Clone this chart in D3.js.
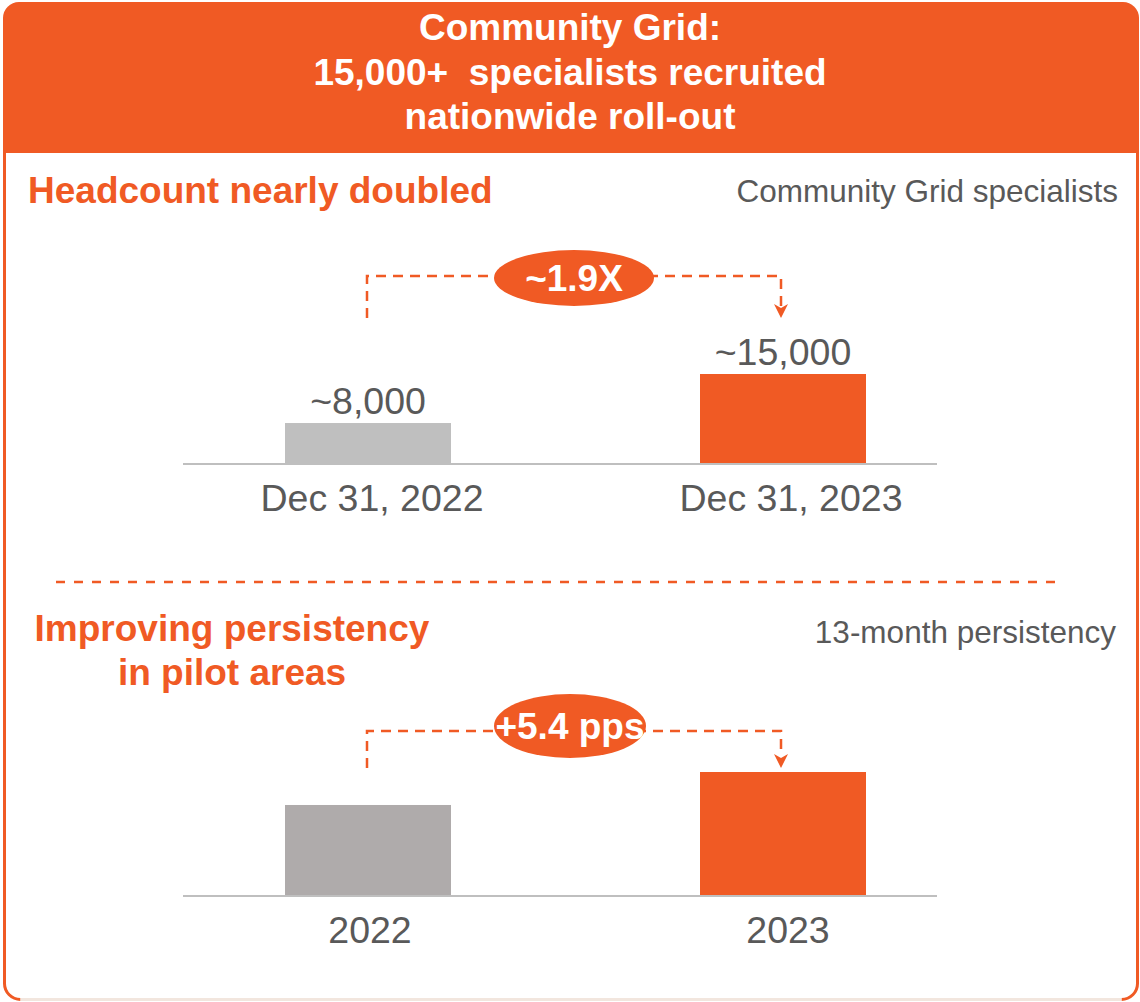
<!DOCTYPE html>
<html>
<head>
<meta charset="utf-8">
<script src="https://cdn.jsdelivr.net/npm/d3@7"></script>
<style>
  html, body { margin: 0; padding: 0; background: #fff; }
  svg { display: block; font-family: "Liberation Sans", Arial, sans-serif; }
</style>
</head>
<body>
<div class="chart"></div>
<script>
// header + section titles
var titleLines = ['Community Grid:', '15,000+  specialists recruited', 'nationwide roll-out'];

// chart 1: headcount
var headcountCategories = ['Dec 31, 2022', 'Dec 31, 2023'];
var headcountValues = [8000, 15000];
var headcountLabels = ['~8,000', '~15,000'];

// chart 2: 13-month persistency (values not labelled, only the +5.4 pps gap)
var persistencyCategories = ['2022', '2023'];
var persistencyValues = [82.0, 87.4];

var orange = '#F05A24';
var grey = '#595959';
var fontSize = 37.5;

draw();

function draw() {
    var width = 1140, height = 1002;

    var svg = d3.select('.chart')
        .append('svg')
        .attr('width', width)
        .attr('height', height);

    // frame
    var x0 = 4.5, x1 = 1137.5, y0 = 2, y1 = 999.5, r = 16, headerBottom = 153;
    var header = d3.path();
    header.moveTo(x0 - 1.5, headerBottom);
    header.lineTo(x0 - 1.5, y0 + r);
    header.arcTo(x0 - 1.5, y0, x0 + r, y0, r);
    header.lineTo(x1 - r, y0);
    header.arcTo(x1 + 1.5, y0, x1 + 1.5, y0 + r, r);
    header.lineTo(x1 + 1.5, headerBottom);
    header.closePath();
    svg.append('path').attr('d', header.toString()).attr('fill', orange);

    var frame = d3.path();
    frame.moveTo(x0, headerBottom - 2);
    frame.lineTo(x0, y1 - r);
    frame.arcTo(x0, y1, x0 + r, y1, r);
    svg.append('path').attr('d', frame.toString())
        .attr('fill', 'none').attr('stroke', orange).attr('stroke-width', 3);
    var frameR = d3.path();
    frameR.moveTo(x1, headerBottom - 2);
    frameR.lineTo(x1, y1 - r);
    frameR.arcTo(x1, y1, x1 - r, y1, r);
    svg.append('path').attr('d', frameR.toString())
        .attr('fill', 'none').attr('stroke', orange).attr('stroke-width', 3);
    svg.append('line')
        .attr('x1', x0 + r).attr('x2', x1 - r).attr('y1', y1).attr('y2', y1)
        .attr('stroke', '#F2E6DE').attr('stroke-width', 3);

    // header title
    svg.append('g').selectAll('text')
        .data(titleLines)
        .enter()
        .append('text')
        .attr('x', 570)
        .attr('y', function (d, i) { return 40 + i * 44.5; })
        .attr('text-anchor', 'middle')
        .attr('fill', '#fff')
        .attr('font-weight', 'bold')
        .attr('font-size', 37)
        .style('white-space', 'pre')
        .text(function (d) { return d; });

    // section headings
    svg.append('text')
        .attr('x', 28).attr('y', 203)
        .attr('fill', orange).attr('font-weight', 'bold').attr('font-size', 37)
        .text('Headcount nearly doubled');
    svg.append('text')
        .attr('x', 1118).attr('y', 202)
        .attr('text-anchor', 'end')
        .attr('fill', grey).attr('font-size', 31.5)
        .text('Community Grid specialists');

    svg.append('text')
        .attr('x', 232).attr('y', 641)
        .attr('text-anchor', 'middle')
        .attr('fill', orange).attr('font-weight', 'bold').attr('font-size', 37)
        .text('Improving persistency');
    svg.append('text')
        .attr('x', 232).attr('y', 685)
        .attr('text-anchor', 'middle')
        .attr('fill', orange).attr('font-weight', 'bold').attr('font-size', 37)
        .text('in pilot areas');
    svg.append('text')
        .attr('x', 1116).attr('y', 643)
        .attr('text-anchor', 'end')
        .attr('fill', grey).attr('font-size', 31.5)
        .text('13-month persistency');

    // separator
    svg.append('line')
        .attr('x1', 56).attr('x2', 1062).attr('y1', 582).attr('y2', 582)
        .attr('stroke', orange).attr('stroke-width', 2.5)
        .attr('stroke-dasharray', '9,9');

    // shared band scale (bars), baseline runs wider
    var x = d3.scaleBand()
        .domain([0, 1])
        .range([285, 866])
        .paddingInner(0.6)
        .paddingOuter(0);

    // chart 1
    var xa = x.copy().domain(headcountCategories);
    var ya = d3.scaleLinear().domain([2150, 15000]).range([464, 374]);
    drawBars(svg, xa, ya, headcountCategories, headcountValues, ['#BFBFBF', orange], 464, 511, [4, 8]);

    svg.append('g').selectAll('text')
        .data(headcountValues)
        .enter()
        .append('text')
        .attr('x', function (d, i) { return xa(headcountCategories[i]) + xa.bandwidth() / 2; })
        .attr('y', function (d) { return ya(d) - 9; })
        .attr('text-anchor', 'middle')
        .attr('fill', grey).attr('font-size', fontSize)
        .text(function (d, i) { return headcountLabels[i]; });

    drawConnector(svg, 367, 781, 276, 318, 318, 574, 278, 80, 28, '~1.9X');

    // chart 2
    var xb = x.copy().domain(persistencyCategories);
    var yb = d3.scaleLinear().domain([67.1, 87.4]).range([896, 772]);
    drawBars(svg, xb, yb, persistencyCategories, persistencyValues, ['#AFABAB', orange], 896, 943, [2, 5]);

    drawConnector(svg, 367, 781, 731, 768, 768, 570, 726, 76, 32, '+5.4 pps');
}

function drawBars(svg, x, y, cats, vals, colors, base, labelY, shift) {
    var g = svg.append('g');
    g.selectAll('rect')
        .data(vals)
        .enter()
        .append('rect')
        .attr('x', function (d, i) { return x(cats[i]); })
        .attr('y', function (d) { return y(d); })
        .attr('width', x.bandwidth())
        .attr('height', function (d) { return base - y(d); })
        .attr('fill', function (d, i) { return colors[i]; });

    var axis = d3.axisBottom(x).tickSize(0).tickPadding(12);
    var ax = g.append('g')
        .attr('transform', 'translate(0,' + base + ')')
        .call(axis);
    ax.select('.domain')
        .attr('stroke', '#BFBFBF').attr('stroke-width', 2)
        .attr('d', 'M183,0H937');
    ax.selectAll('text')
        .attr('font-size', fontSize).attr('fill', grey)
        .attr('font-family', '"Liberation Sans", Arial, sans-serif')
        .attr('dx', function (d, i) { return shift[i]; })
        .attr('dy', null)
        .attr('y', labelY - base);
}

function drawConnector(svg, xl, xr, yTop, yLeftEnd, yTip, cx, cy, rx, ry, label) {
    var g = svg.append('g');
    g.append('path')
        .attr('d', 'M' + xl + ',' + yLeftEnd + 'V' + yTop + 'H' + xr + 'V' + (yTip - 12))
        .attr('fill', 'none')
        .attr('stroke', '#F05A24').attr('stroke-width', 2.5)
        .attr('stroke-dasharray', '10,7');
    g.append('path')
        .attr('d', 'M' + (xr - 7) + ',' + (yTip - 14) + 'L' + xr + ',' + (yTip - 10) +
            'L' + (xr + 7) + ',' + (yTip - 14) + 'L' + xr + ',' + yTip + 'Z')
        .attr('fill', '#F05A24');
    g.append('ellipse')
        .attr('cx', cx).attr('cy', cy).attr('rx', rx).attr('ry', ry)
        .attr('fill', '#F05A24');
    g.append('text')
        .attr('x', cx).attr('y', cy + 13)
        .attr('text-anchor', 'middle')
        .attr('fill', '#fff').attr('font-weight', 'bold').attr('font-size', 37)
        .text(label);
}
</script>
</body>
</html>
